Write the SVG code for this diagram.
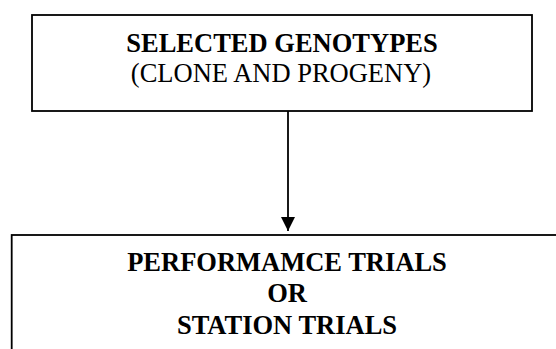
<svg xmlns="http://www.w3.org/2000/svg" width="556" height="349" viewBox="0 0 556 349">
<style>
.box{fill:#fff;stroke:#000;stroke-width:1.8}
text{font-family:'Liberation Serif','DejaVu Serif',serif;font-size:26.5px;text-anchor:middle;fill:#000}
.b{font-weight:bold}
.edge{stroke:#000;stroke-width:1.8;fill:none}
</style>
<defs>
<marker id="ah" viewBox="0 0 14 16" refX="14" refY="7" markerWidth="14" markerHeight="16" markerUnits="userSpaceOnUse" orient="auto">
<path d="M0,0 L14,7 L0,14 Z" fill="#000"/>
</marker>
</defs>
<g id="connectors">
<line class="edge" x1="288" y1="111" x2="288" y2="231" marker-end="url(#ah)"/>
</g>
<g id="selected">
<rect class="box" x="32" y="15" width="500" height="96"/>
<text class="b" x="282" y="52">SELECTED GENOTYPES</text>
<text x="281" y="82">(CLONE AND PROGENY)</text>
</g>
<g id="trials">
<rect class="box" x="11.7" y="235" width="560" height="130"/>
<text class="b" x="287" y="271">PERFORMAMCE TRIALS</text>
<text class="b" x="287" y="302">OR</text>
<text class="b" x="287" y="334">STATION TRIALS</text>
</g>
</svg>
